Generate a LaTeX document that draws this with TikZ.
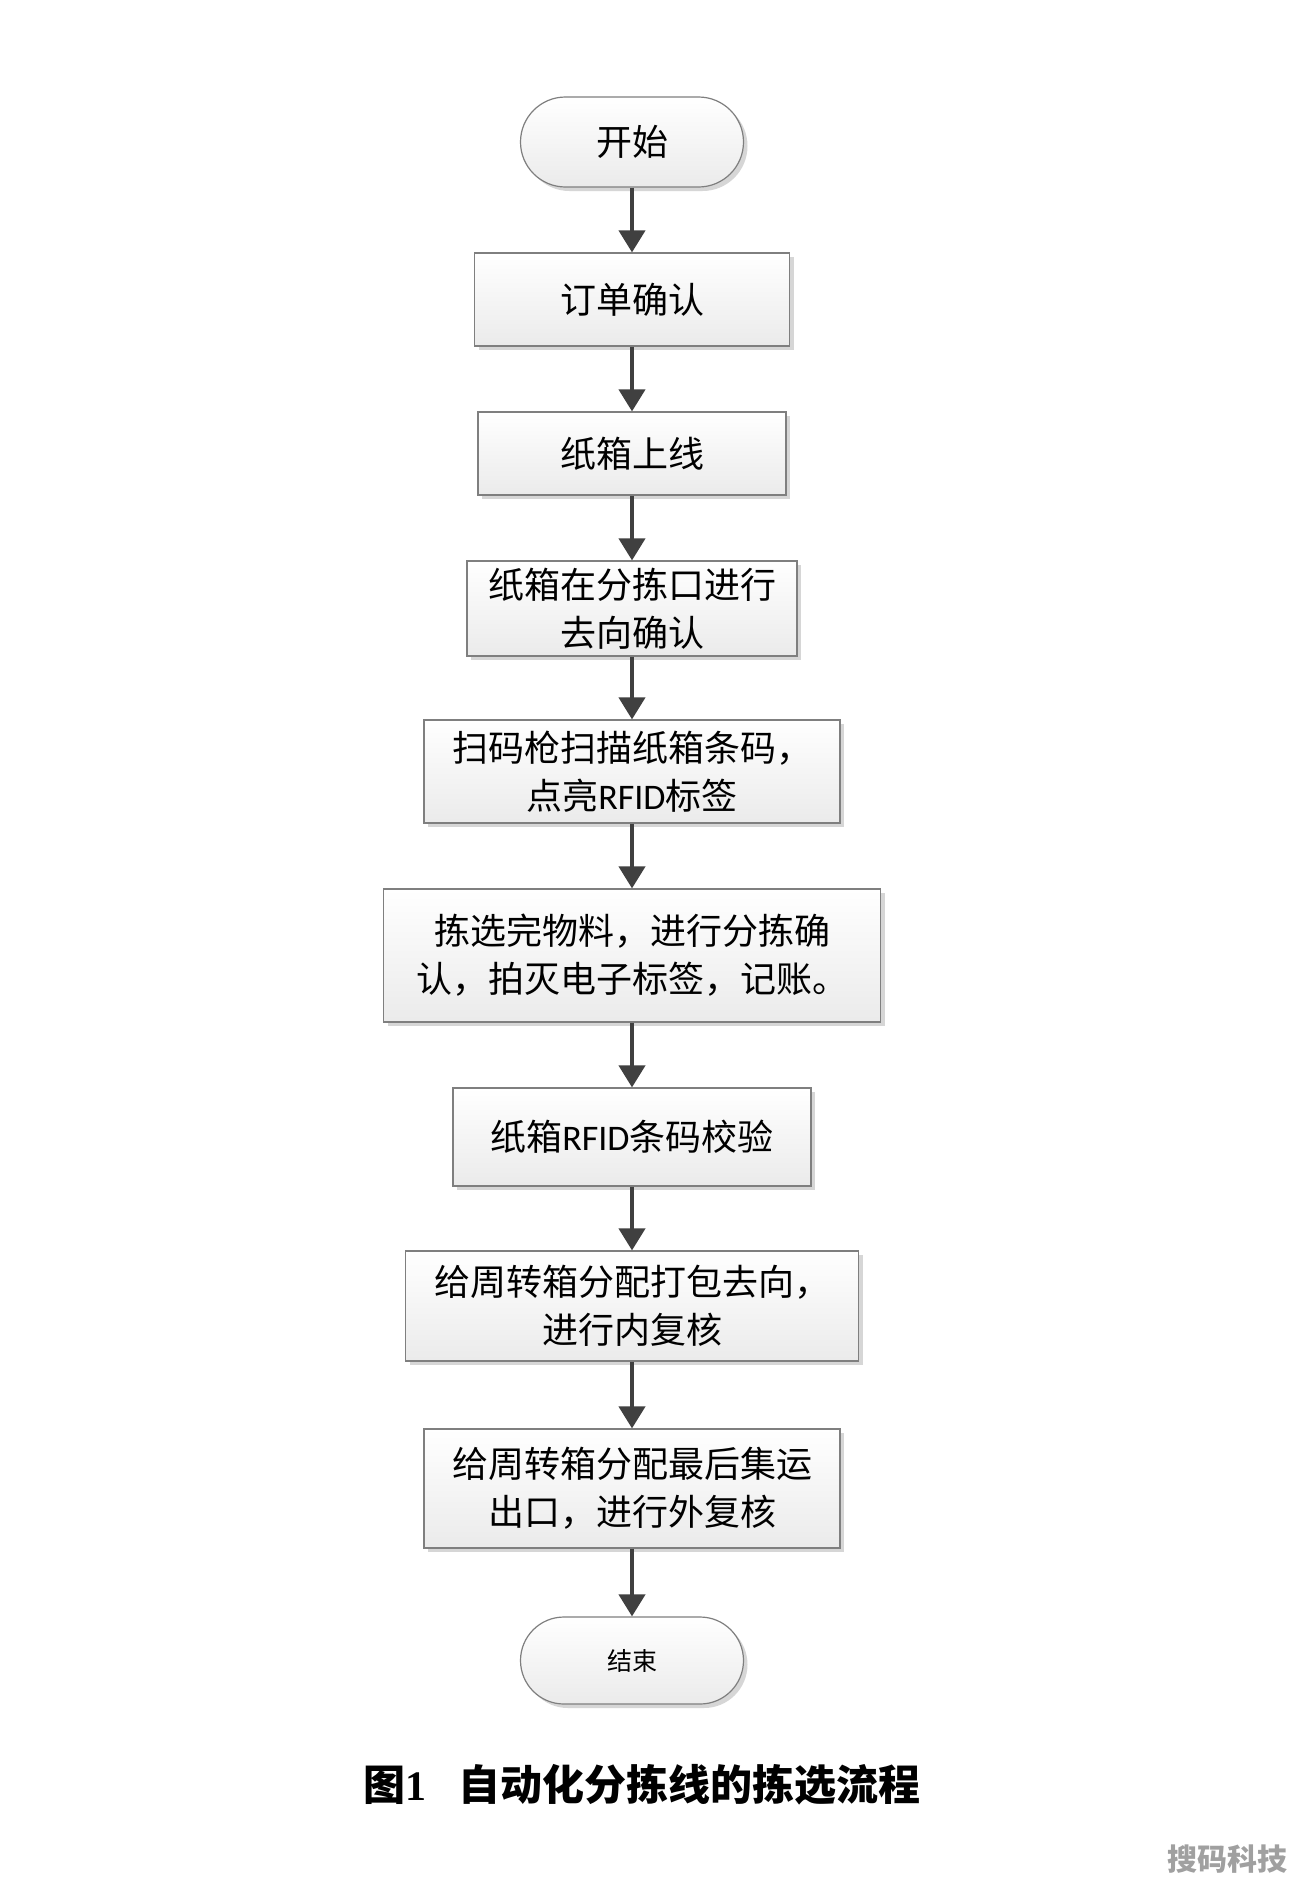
\documentclass[tikz,border=0pt]{standalone}
\usepackage{fontspec}
\newfontfamily\cjk{Noto Sans CJK SC}
\newfontfamily\lat{Carlito}
\newfontfamily\serifnum{Liberation Serif}
\usetikzlibrary{arrows.meta,shapes.misc,shadows}
\definecolor{edgegray}{HTML}{7F7F7F}
\definecolor{arrgray}{HTML}{404040}
\definecolor{wmgray}{HTML}{A0A0A0}
\begin{document}
\begin{tikzpicture}[x=1pt,y=-1pt,
  flowbox/.style={rectangle, draw=edgegray, line width=1.2pt,
    top color=white, bottom color=black!8,
    drop shadow={shadow xshift=4pt, shadow yshift=-4pt, fill=black!16, opacity=1},
    align=center, inner sep=0pt,
    font=\cjk\fontsize{36pt}{48pt}\selectfont},
  terminal/.style={rounded rectangle, rounded rectangle arc length=180,
    draw=edgegray, line width=1.2pt,
    top color=white, bottom color=black!8,
    drop shadow={shadow xshift=4pt, shadow yshift=-4pt, fill=black!16, opacity=1},
    align=center, inner sep=0pt},
  flowarrow/.style={draw=arrgray, line width=4pt,
    -{Triangle[width=26pt,length=22pt]}, arrgray},
  captext/.style={inner sep=0pt, font=\fontsize{42pt}{50pt}\selectfont\bfseries}
]
\useasboundingbox (0,0) rectangle (1292,1880);
\fill[white] (0,0) rectangle (1292,1880);

\node[terminal, minimum width=223pt, minimum height=90pt,
      font=\cjk\fontsize{36pt}{48pt}\selectfont] (s) at (632,142) {开始};
\node[flowbox, minimum width=315pt, minimum height=93pt] (b1) at (632,299.5) {订单确认};
\node[flowbox, minimum width=308pt, minimum height=83pt] (b2) at (632,453.5) {纸箱上线};
\node[flowbox, minimum width=330pt, minimum height=95pt] (b3) at (632,608.5) {纸箱在分拣口进行\\去向确认};
\node[flowbox, minimum width=416pt, minimum height=103pt] (b4) at (632,771.5) {扫码枪扫描纸箱条码，\\点亮{\lat RFID}标签};
\node[flowbox, minimum width=497pt, minimum height=133pt] (b5) at (632,955.5) {拣选完物料，进行分拣确\\认，拍灭电子标签，记账。};
\node[flowbox, minimum width=358pt, minimum height=98pt] (b6) at (632,1137) {纸箱{\lat RFID}条码校验};
\node[flowbox, minimum width=453pt, minimum height=110pt] (b7) at (632,1306) {给周转箱分配打包去向，\\进行内复核};
\node[flowbox, minimum width=416pt, minimum height=119pt] (b8) at (632,1488.5) {给周转箱分配最后集运\\出口，进行外复核};
\node[terminal, minimum width=223pt, minimum height=87pt,
      font=\cjk\fontsize{25pt}{30pt}\selectfont] (e) at (632,1660.5) {结束};

\draw[flowarrow] (s.south) -- (b1.north);
\draw[flowarrow] (b1.south) -- (b2.north);
\draw[flowarrow] (b2.south) -- (b3.north);
\draw[flowarrow] (b3.south) -- (b4.north);
\draw[flowarrow] (b4.south) -- (b5.north);
\draw[flowarrow] (b5.south) -- (b6.north);
\draw[flowarrow] (b6.south) -- (b7.north);
\draw[flowarrow] (b7.south) -- (b8.north);
\draw[flowarrow] (b8.south) -- (e.north);

\node[captext, anchor=west] (capnum) at (363,1785) {{\cjk 图}{\serifnum 1}};
\node[captext] (captitle) at (689,1785) {\cjk 自动化分拣线的拣选流程};
\node[inner sep=0pt, anchor=east, text=wmgray] (wm) at (1288,1859)
  {\cjk\bfseries\fontsize{30pt}{36pt}\selectfont 搜码科技};
\end{tikzpicture}
\end{document}
